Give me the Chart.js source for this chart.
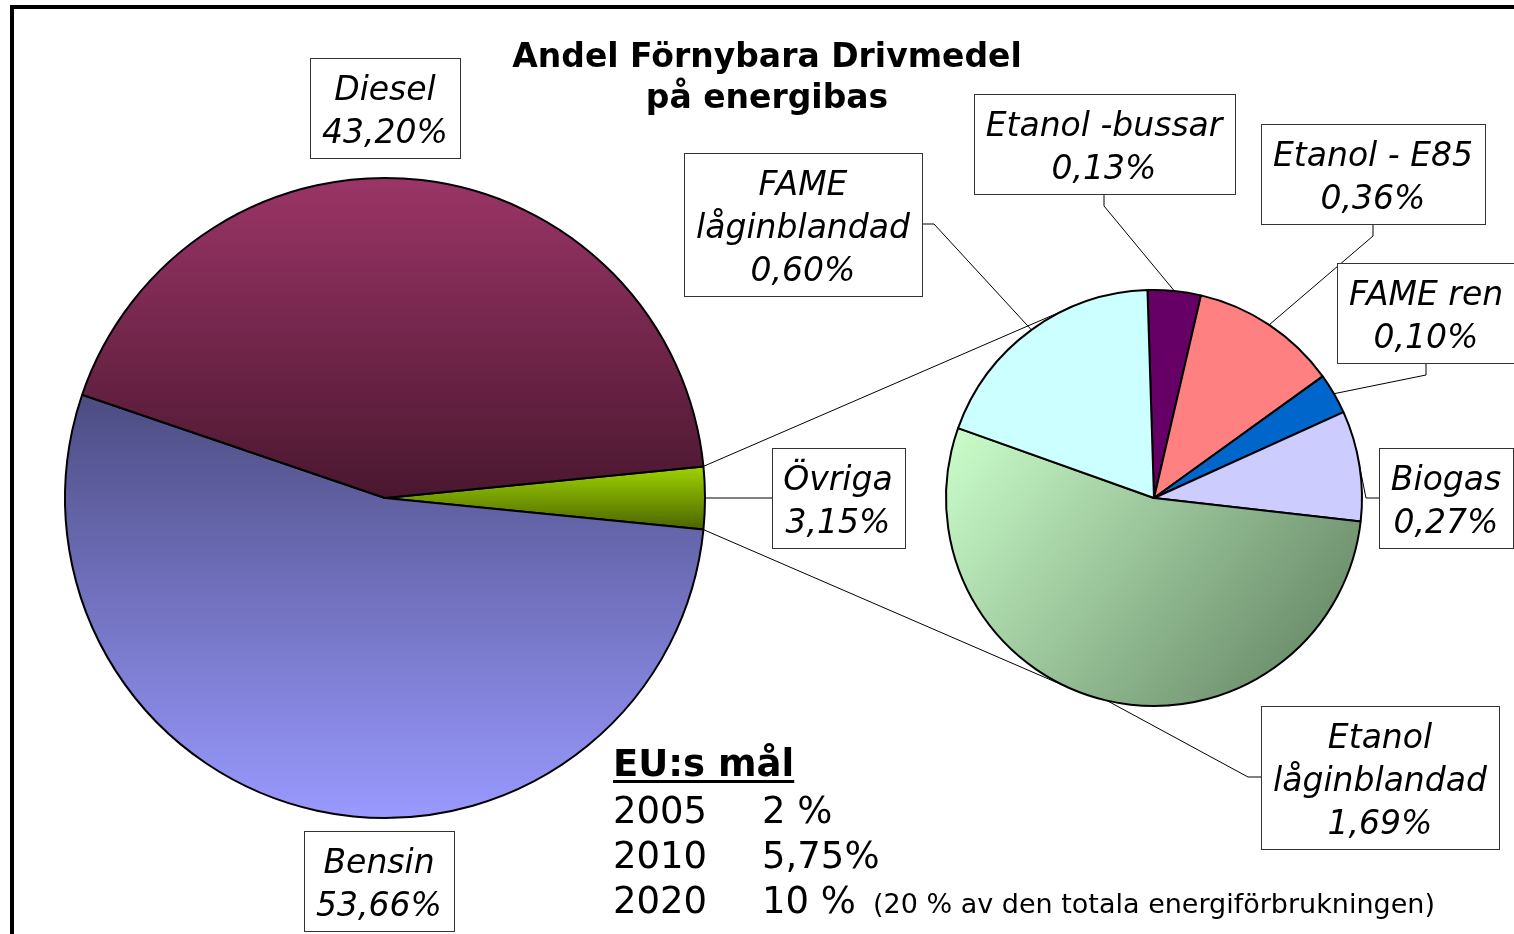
<!DOCTYPE html>
<html>
<head>
<meta charset="utf-8">
<script src="https://cdn.jsdelivr.net/npm/chart.js@4.4.1/dist/chart.umd.min.js"></script>
<style>
    html, body { margin: 0; padding: 0; background: #fff; overflow: hidden; }
    #wrap { position: relative; width: 1514px; height: 934px; overflow: hidden; }
    #wrap canvas { position: absolute; left: 0; top: 0; }
    #frame { position: absolute; left: 10px; top: 5px; width: 1530px; height: 960px; border: 4px solid #000; }
</style>
</head>
<body>
<div id="wrap">
    <div id="frame"></div>
    <canvas id="mainChart" width="1514" height="934"></canvas>
    <canvas id="subChart" width="1514" height="934"></canvas>
</div>
<script>
// Data
const mainLabels = ["Övriga", "Bensin", "Diesel"];
const mainValues = [3.15, 53.66, 43.20];
const subLabels = ["Etanol -bussar", "Etanol - E85", "FAME ren", "Biogas", "Etanol låginblandad", "FAME låginblandad"];
const subValues = [0.13, 0.36, 0.10, 0.27, 1.69, 0.60];
const goalYears = ["2005", "2010", "2020"];
const goalShares = ["2 %", "5,75%", "10 %"];
const goalNotes = ["", "", "(20 % av den totala energiförbrukningen)"];

const titleLines = ["Andel Förnybara Drivmedel", "på energibas"];

// Styling
const LABEL_FONT = "italic 33px 'DejaVu Sans', Verdana, sans-serif";
const MAIN_R = 320;
const SUB_R = 208;

// top colour, bottom colour, gradient span (fractions of radius from centre)
const mainShades = [
    ["#a0d400", "#4a6400", -0.1, 0.1],
    ["#4c4c82", "#9999ff", -0.33, 1],
    ["#9b3567", "#4a172f", -1, 0]
];
const subColors = ["#660066", "#ff8080", "#0066cc", "#ccccff", null, "#ccffff"];

// label boxes: centre and side where the leader line attaches
const labelBoxes = {
    "Diesel": { x: 385, y: 108 },
    "Bensin": { x: 379, y: 881 },
    "Övriga": { x: 838, y: 498, side: "left" },
    "Etanol -bussar": { x: 1104, y: 144, side: "bottom" },
    "Etanol - E85": { x: 1373, y: 174, side: "bottom" },
    "FAME ren": { x: 1426, y: 313, side: "bottom" },
    "Biogas": { x: 1446, y: 498, side: "left" },
    "Etanol låginblandad": { x: 1380, y: 777, side: "left", split: true },
    "FAME låginblandad": { x: 803, y: 224, side: "right", split: true }
};

function pct(v) {
    return v.toFixed(2).replace(".", ",") + "%";
}

function mainFill(c) {
    const area = c.chart.chartArea;
    const shade = mainShades[c.dataIndex];
    if (!area) return shade[0];
    const cy = (area.top + area.bottom) / 2;
    const g = c.chart.ctx.createLinearGradient(0, cy + shade[2] * MAIN_R, 0, cy + shade[3] * MAIN_R);
    g.addColorStop(0, shade[0]);
    g.addColorStop(1, shade[1]);
    return g;
}

function subFill(c) {
    const color = subColors[c.dataIndex];
    if (color) return color;
    const area = c.chart.chartArea;
    if (!area) return "#99cc99";
    const cx = (area.left + area.right) / 2;
    const cy = (area.top + area.bottom) / 2;
    const g = c.chart.ctx.createLinearGradient(cx - SUB_R, cy - 0.35 * SUB_R, cx + 0.75 * SUB_R, cy + SUB_R);
    g.addColorStop(0, "#ccffcc");
    g.addColorStop(1, "#658665");
    return g;
}

// Draw a boxed label and its leader line
function drawLabel(ctx, name, value, arc) {
    const box = labelBoxes[name];
    if (!box) return;
    let lines = [name];
    if (box.split) {
        const i = name.indexOf(" ");
        lines = [name.slice(0, i), name.slice(i + 1)];
    }
    lines.push(pct(value));

    ctx.save();
    ctx.font = LABEL_FONT;
    const w = Math.round(Math.max(...lines.map(l => ctx.measureText(l).width)) + 24);
    const h = lines.length * 43 + 14;
    const left = Math.round(box.x - w / 2);
    const top = Math.round(box.y - h / 2);

    if (box.side && arc) {
        const p = arc.getProps(["x", "y", "startAngle", "endAngle", "outerRadius"], true);
        const mid = (p.startAngle + p.endAngle) / 2;
        const sx = p.x + Math.cos(mid) * p.outerRadius;
        const sy = p.y + Math.sin(mid) * p.outerRadius;
        let ax, ay, kx, ky;
        if (box.side === "bottom") { ax = box.x; ay = top + h; kx = ax; ky = ay + 12; }
        if (box.side === "left") { ax = left; ay = box.y; kx = ax - 13; ky = ay; }
        if (box.side === "right") { ax = left + w; ay = box.y; kx = ax + 12; ky = ay; }
        ctx.strokeStyle = "#000";
        ctx.lineWidth = 1;
        ctx.beginPath();
        ctx.moveTo(sx, sy);
        ctx.lineTo(kx, ky);
        ctx.lineTo(ax, ay);
        ctx.stroke();
    }

    ctx.fillStyle = "#fff";
    ctx.fillRect(left, top, w, h);
    ctx.strokeStyle = "#333";
    ctx.lineWidth = 1;
    ctx.strokeRect(left + 0.5, top + 0.5, w, h);
    ctx.fillStyle = "#000";
    ctx.textAlign = "center";
    ctx.textBaseline = "alphabetic";
    lines.forEach((l, i) => ctx.fillText(l, box.x, top + 42 + i * 43));
    ctx.restore();
}

// Lines from the "Övriga" slice corners, tangent to the secondary pie
function tangentPoint(px, py, cx, cy, r, upper) {
    const d = Math.hypot(px - cx, py - cy);
    const base = Math.atan2(py - cy, px - cx);
    const a = Math.acos(r / d);
    const t = upper ? base + a : base - a;
    return [cx + Math.cos(t) * r, cy + Math.sin(t) * r];
}

const subDecor = {
    id: "subDecor",
    afterDraw(chart) {
        const ctx = chart.ctx;
        const arcs = chart.getDatasetMeta(0).data;
        subLabels.forEach((name, i) => drawLabel(ctx, name, subValues[i], arcs[i]));

        // title
        ctx.save();
        ctx.fillStyle = "#000";
        ctx.textAlign = "center";
        ctx.font = "bold 33px 'DejaVu Sans', Verdana, sans-serif";
        ctx.fillText(titleLines[0], 767, 67);
        ctx.fillText(titleLines[1], 767, 108);

        // EU goals
        ctx.textAlign = "left";
        ctx.font = "bold 37px 'DejaVu Sans', Verdana, sans-serif";
        const head = "EU:s mål";
        ctx.fillText(head, 613, 776);
        ctx.fillRect(613, 780, ctx.measureText(head).width, 3);
        goalYears.forEach((year, i) => {
            const y = 823 + i * 45;
            ctx.font = "37px 'DejaVu Sans', Verdana, sans-serif";
            ctx.fillText(year, 613, y);
            ctx.fillText(goalShares[i], 762, y);
            const end = 762 + ctx.measureText(goalShares[i]).width;
            if (goalNotes[i]) {
                ctx.font = "27px 'DejaVu Sans', Verdana, sans-serif";
                ctx.fillText(goalNotes[i], end + 17, y);
            }
        });
        ctx.restore();
    }
};

const subChart = new Chart(document.getElementById("subChart"), {
    type: "pie",
    data: {
        labels: subLabels,
        datasets: [{
            data: subValues,
            backgroundColor: subFill,
            borderColor: "#000",
            borderWidth: 2
        }]
    },
    options: {
        responsive: false,
        animation: false,
        events: [],
        rotation: -1.8,
        radius: SUB_R,
        layout: { padding: { left: 946, right: 152, top: 290, bottom: 228 } },
        plugins: {
            legend: { display: false },
            tooltip: { enabled: false }
        }
    },
    plugins: [subDecor]
});

const mainDecor = {
    id: "mainDecor",
    afterDraw(chart) {
        const ctx = chart.ctx;
        const arcs = chart.getDatasetMeta(0).data;

        // series lines to the secondary pie
        const o = arcs[0].getProps(["x", "y", "startAngle", "endAngle", "outerRadius"], true);
        const s = subChart.getDatasetMeta(0).data[0].getProps(["x", "y", "outerRadius"], true);
        const corners = [[o.startAngle, true], [o.endAngle, false]];
        ctx.save();
        ctx.strokeStyle = "#000";
        ctx.lineWidth = 1;
        corners.forEach(([ang, upper]) => {
            const px = o.x + Math.cos(ang) * o.outerRadius;
            const py = o.y + Math.sin(ang) * o.outerRadius;
            const [tx, ty] = tangentPoint(px, py, s.x, s.y, s.outerRadius, upper);
            ctx.beginPath();
            ctx.moveTo(px, py);
            ctx.lineTo(tx, ty);
            ctx.stroke();
        });
        ctx.restore();

        mainLabels.forEach((name, i) => drawLabel(ctx, name, mainValues[i], arcs[i]));
    }
};

const mainTotal = mainValues.reduce((a, b) => a + b, 0);
new Chart(document.getElementById("mainChart"), {
    type: "pie",
    data: {
        labels: mainLabels,
        datasets: [{
            data: mainValues,
            backgroundColor: mainFill,
            borderColor: "#000",
            borderWidth: 2
        }]
    },
    options: {
        responsive: false,
        animation: false,
        events: [],
        // centre the small slice on the right-hand side
        rotation: 90 - (mainValues[0] / mainTotal) * 180,
        radius: MAIN_R,
        layout: { padding: { left: 0, right: 744, top: 178, bottom: 116 } },
        plugins: {
            legend: { display: false },
            tooltip: { enabled: false }
        }
    },
    plugins: [mainDecor]
});
</script>
</body>
</html>
